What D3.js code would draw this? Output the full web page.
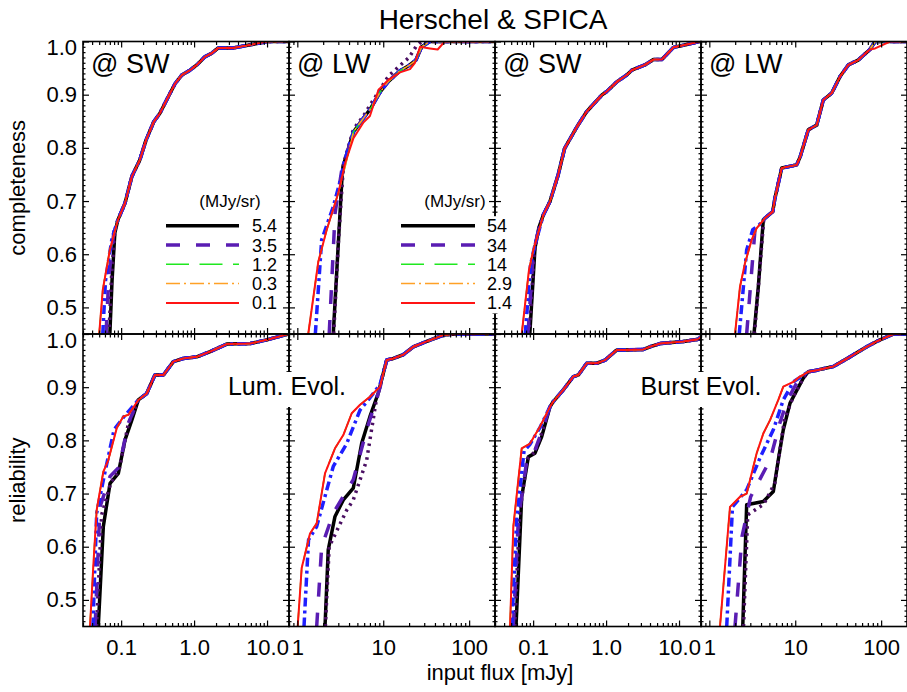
<!DOCTYPE html>
<head>
  <meta charset="utf-8">
  <title>Herschel &amp; SPICA</title>
  <script src="https://cdn.jsdelivr.net/npm/d3@7"></script>
  <style>
    body { margin: 0; background: #fff; }
    text { font-family: "Liberation Sans", Arial, Helvetica, sans-serif; fill: #000; }
  </style>
</head>
<body>
<div id="chart"></div>
<script>

// axis ticks and labels
var swTicks = [0.1, 1, 10];
var swTickLabels = ["0.1", "1.0", "10.0"];
var lwTicks = [1, 10, 100];
var lwTickLabels = ["1", "10", "100"];
var yTicks = [0.5, 0.6, 0.7, 0.8, 0.9, 1.0];
var yTickLabels = ["0.5", "0.6", "0.7", "0.8", "0.9", "1.0"];
var swDomain = [0.03, 20];
var lwDomain = [0.8, 200];
var yDomain = [0.45, 1.0];

// legend (background in MJy/sr)
var legendSW = ["5.4", "3.5", "1.2", "0.3", "0.1"];
var legendLW = ["54", "34", "14", "2.9", "1.4"];

// ---- completeness, SW, Lum. Evol.  [flux mJy, value]
var p1Tail = [[0.09,0.664],[0.113,0.696],[0.14,0.746],[0.18,0.777],[0.22,0.815],[0.28,0.849],[0.34,0.865],[0.42,0.89],[0.55,0.921],[0.68,0.937],[0.88,0.946],[1.09,0.956],[1.4,0.971],[1.75,0.978],[2.15,0.988],[3.5,0.988],[6.5,0.995],[10,1.0],[20,1.0]];
var p1Black = [[0.07,0.45],[0.075,0.55],[0.082,0.64]];
var p1Dot = [[0.068,0.45],[0.074,0.56],[0.082,0.645]];
var p1Dash = [[0.062,0.45],[0.068,0.56],[0.08,0.645]];
var p1Blue = [[0.056,0.45],[0.061,0.55],[0.075,0.63]];
var p1Red = [[0.05,0.45],[0.056,0.533],[0.07,0.608]];

// ---- completeness, LW, Lum. Evol.
var p2Tail = [[3.4,0.765],[4.5,0.83],[5.9,0.856],[7,0.872],[9.2,0.905],[11.5,0.925],[15.7,0.945],[20,0.955],[24,0.965],[28,0.99],[35,1.0],[200,1.0]];
var p2Black = [[2.62,0.45],[3.0,0.62],[3.3,0.74]];
var p2Dot = [[2.65,0.45],[3.0,0.62],[3.45,0.77],[4.5,0.835],[5.9,0.86],[7,0.88],[9.2,0.91],[11.5,0.935],[15.7,0.955],[20,0.97],[24,0.99],[28,1.0],[200,1.0]];
var p2Dash = [[2.35,0.45],[2.75,0.677],[3.3,0.76]];
var p2Blue = [[1.62,0.45],[1.92,0.627],[2.62,0.689],[3.3,0.75]];
var p2Faint = [[1.34,0.45],[1.755,0.586],[2.2,0.646],[3.0,0.715],[3.6,0.765]];
var p2Red = [[1.34,0.45],[1.755,0.586],[2.2,0.646],[3.0,0.715],[3.6,0.771],[4.5,0.818],[5.9,0.848],[7,0.86],[8.8,0.909],[11.5,0.928],[15.7,0.942],[20.5,0.948],[23.4,0.96],[26.8,0.99],[35,0.987],[43,0.985],[52,1.0],[200,1.0]];

// ---- completeness, SW, Burst Evol.
var p3Tail = [[0.138,0.674],[0.17,0.699],[0.22,0.749],[0.27,0.799],[0.4,0.84],[0.54,0.868],[0.87,0.899],[1.02,0.906],[1.4,0.924],[1.92,0.937],[2.25,0.946],[3.4,0.956],[4.45,0.966],[5.8,0.966],[8.4,0.989],[11.5,0.993],[19,1.0],[20,1.0]];
var p3Black = [[0.09,0.45],[0.106,0.612],[0.12,0.65]];
var p3Dot = [[0.088,0.45],[0.104,0.605],[0.12,0.65]];
var p3Dash = [[0.085,0.45],[0.1,0.6],[0.12,0.65]];
var p3Blue = [[0.078,0.45],[0.092,0.58],[0.105,0.615]];
var p3Red = [[0.0697,0.45],[0.0878,0.571],[0.1006,0.608]];

// ---- completeness, LW, Burst Evol.
var p4Tail = [[4.45,0.668],[5.47,0.68],[5.8,0.705],[6.96,0.762],[10.4,0.768],[11.4,0.783],[14.2,0.834],[17.8,0.843],[21.2,0.89],[26.6,0.903],[33.2,0.934],[41.5,0.956],[54,0.965],[74,0.985],[85,1.0],[200,1.0]];
var p4Black = [[3.31,0.45],[3.72,0.539],[4.25,0.665]];
var p4Dot = [[3.35,0.45],[3.75,0.545],[4.3,0.665]];
var p4Dash = [[2.72,0.45],[3.4,0.646],[4.0,0.66]];
var p4Blue = [[2.23,0.45],[2.72,0.608],[3.2,0.646],[3.8,0.655]];
var p4Faint = [[1.99,0.45],[2.276,0.539],[2.6,0.583],[3.11,0.627],[3.56,0.649]];
var p4Red = [[1.99,0.45],[2.276,0.539],[2.6,0.583],[3.11,0.627],[3.56,0.649],[4.45,0.668],[5.47,0.68],[5.8,0.705],[6.96,0.762],[10.4,0.768],[11.4,0.783],[14.2,0.834],[17.8,0.843],[21.2,0.89],[26.6,0.903],[33.2,0.934],[41.5,0.956],[54,0.965],[74,0.985],[85,0.987],[127,1.0],[200,1.0]];

// ---- reliability, SW, Lum. Evol.
var p5Tail = [[0.172,0.876],[0.224,0.888],[0.29,0.923],[0.38,0.923],[0.52,0.948],[0.71,0.954],[1.09,0.957],[1.66,0.967],[2.8,0.981],[5.9,0.982],[9.9,0.989],[19.6,1.0],[20,1.0]];
var p5Black = [[0.0486,0.45],[0.057,0.638],[0.0704,0.719],[0.0915,0.738],[0.113,0.801],[0.14,0.838]];
var p5Dot = [[0.046,0.45],[0.054,0.66],[0.072,0.72],[0.094,0.745],[0.125,0.83]];
var p5Dash = [[0.044,0.45],[0.0512,0.675],[0.0704,0.732],[0.094,0.75],[0.125,0.832]];
var p5Blue = [[0.041,0.45],[0.0462,0.663],[0.06,0.74],[0.08,0.82],[0.107,0.843]];
var p5Red = [[0.0374,0.45],[0.0415,0.563],[0.0462,0.669],[0.057,0.741],[0.0667,0.763],[0.087,0.823],[0.107,0.845],[0.1255,0.848]];

// ---- reliability, LW, Lum. Evol.
var p6Tail = [[10.98,0.951],[13.1,0.954],[17.1,0.961],[22.4,0.976],[32.1,0.986],[50,0.998],[70,1.0],[200,1.0]];
var p6Black = [[2.1,0.45],[2.29,0.594],[2.745,0.657],[3.43,0.688],[4.48,0.71],[5.62,0.795],[7.01,0.845],[8.76,0.889],[10.5,0.939]];
var p6Dot = [[2.12,0.45],[2.35,0.6],[3.76,0.669],[4.48,0.688],[6.42,0.763],[8.2,0.87],[10.5,0.94]];
var p6Dash = [[1.68,0.45],[1.92,0.6],[2.62,0.663],[4.48,0.726],[6.42,0.82],[9.2,0.9]];
var p6Blue = [[1.196,0.45],[1.35,0.613],[1.68,0.638],[2.62,0.751],[3.76,0.794],[5.37,0.857],[7.01,0.88],[9.17,0.905]];
var p6Red = [[1.01,0.45],[1.124,0.56],[1.405,0.625],[1.681,0.644],[2.1,0.738],[2.745,0.785],[3.43,0.81],[4.3,0.851],[5.37,0.867],[7.01,0.882],[9.17,0.901]];

// ---- reliability, SW, Burst Evol.
var p7Tail = [[0.17,0.863],[0.189,0.873],[0.259,0.895],[0.356,0.92],[0.417,0.923],[0.543,0.945],[0.745,0.945],[0.968,0.951],[1.4,0.97],[1.82,0.97],[3.25,0.971],[4.0,0.976],[5.5,0.982],[11.5,0.986],[18.4,0.99],[20,0.995]];
var p7Black = [[0.0582,0.45],[0.0697,0.694],[0.0859,0.769],[0.106,0.776],[0.1311,0.807]];
var p7Dot = [[0.056,0.45],[0.065,0.66],[0.083,0.765],[0.105,0.778],[0.13,0.812]];
var p7Dash = [[0.0535,0.45],[0.0626,0.65],[0.0819,0.763],[0.105,0.78],[0.13,0.815]];
var p7Blue = [[0.051,0.45],[0.0594,0.65],[0.075,0.78],[0.09,0.792],[0.124,0.824]];
var p7Red = [[0.0482,0.45],[0.0535,0.638],[0.0697,0.785],[0.0906,0.794],[0.1243,0.826]];

// ---- reliability, LW, Burst Evol.
var p8Tail = [[14.2,0.929],[17.8,0.932],[27.8,0.939],[43.4,0.957],[67.9,0.976],[88.8,0.986],[138.7,1.0],[200,1.0]];
var p8Black = [[2.45,0.45],[2.72,0.679],[4.25,0.685],[5.56,0.704],[6.35,0.763],[7.26,0.82],[8.7,0.87],[12.4,0.917]];
var p8Dot = [[2.5,0.45],[2.8,0.66],[4.3,0.68],[5.8,0.72],[6.6,0.78],[7.5,0.84],[9.5,0.882],[12.4,0.917]];
var p8Dash = [[1.99,0.45],[2.4,0.619],[3.03,0.694],[5.09,0.763],[6.6,0.832],[8.1,0.876],[11,0.915]];
var p8Blue = [[1.594,0.45],[1.86,0.675],[2.72,0.707],[3.94,0.769],[5.56,0.82],[7.26,0.876],[9.5,0.91]];
var p8Red = [[1.331,0.45],[1.741,0.675],[2.276,0.694],[2.724,0.7],[3.113,0.738],[3.561,0.776],[4.25,0.813],[5.09,0.838],[6.35,0.876],[7.26,0.901],[9.5,0.91],[11.36,0.92]];

// curve order: black, dotted, dashed, blue dash-dot, green, orange, red
var panels = [
  {row: 0, col: 0, band: "SW", tag: "@ SW", tail: p1Tail, curves: [p1Black, p1Dot, p1Dash, p1Blue, p1Red, p1Red, p1Red]},
  {row: 0, col: 1, band: "LW", tag: "@ LW", tail: p2Tail, curves: [p2Black, p2Dot, p2Dash, p2Blue, p2Faint, p2Faint, p2Red]},
  {row: 0, col: 2, band: "SW", tag: "@ SW", tail: p3Tail, curves: [p3Black, p3Dot, p3Dash, p3Blue, p3Red, p3Red, p3Red]},
  {row: 0, col: 3, band: "LW", tag: "@ LW", tail: p4Tail, curves: [p4Black, p4Dot, p4Dash, p4Blue, p4Faint, p4Faint, p4Red]},
  {row: 1, col: 0, band: "SW", tag: null, tail: p5Tail, curves: [p5Black, p5Dot, p5Dash, p5Blue, p5Red, p5Red, p5Red]},
  {row: 1, col: 1, band: "LW", tag: null, tail: p6Tail, curves: [p6Black, p6Dot, p6Dash, p6Blue, p6Red, p6Red, p6Red]},
  {row: 1, col: 2, band: "SW", tag: null, tail: p7Tail, curves: [p7Black, p7Dot, p7Dash, p7Blue, p7Red, p7Red, p7Red]},
  {row: 1, col: 3, band: "LW", tag: null, tail: p8Tail, curves: [p8Black, p8Dot, p8Dash, p8Blue, p8Red, p8Red, p8Red]}
];

var lineStyles = [
  {color: "#000000", width: 3.5, dash: null},
  {color: "#4a0f62", width: 3.5, dash: "2.5,4.5"},
  {color: "#5a1db3", width: 3.5, dash: "14,16"},
  {color: "#1f1fff", width: 3.5, dash: "9,4,3,4"},
  {color: "#1fe81f", width: 1.5, dash: "23,10.5"},
  {color: "#ffa126", width: 1.5, dash: "14,4,2,4"},
  {color: "#ff1414", width: 2, dash: null}
];
var legendStyles = [0, 2, 4, 5, 6];

var W = 907, H = 692;
var lefts = [83, 289, 495, 701];
var tops = [41.5, 334];
var pw = 206, ph = 292.5;
var fontFam = '"Liberation Sans", Arial, Helvetica, sans-serif';

var svg = d3.select("#chart").append("svg")
  .attr("width", W)
  .attr("height", H)
  .style("background", "#fff");

function withTail(head, tail) {
  var last = head[head.length - 1][0];
  return head.concat(tail.filter(function(d) { return d[0] > last; }));
}

panels.forEach(function(p, k) {
  var g = svg.append("g")
    .attr("transform", "translate(" + lefts[p.col] + "," + tops[p.row] + ")");

  var x = d3.scaleLog()
    .domain(p.band == "SW" ? swDomain : lwDomain)
    .range([0, pw]);
  var y = d3.scaleLinear()
    .domain(yDomain)
    .range([ph, 0]);

  g.append("clipPath").attr("id", "clip" + k)
    .append("rect").attr("width", pw).attr("height", ph);

  var line = d3.line()
    .x(function(d) { return x(d[0]); })
    .y(function(d) { return y(d[1]); });

  // curves
  var cg = g.append("g").attr("clip-path", "url(#clip" + k + ")");
  p.curves.forEach(function(c, i) {
    var s = lineStyles[i];
    cg.append("path")
      .datum(withTail(c, p.tail))
      .attr("fill", "none")
      .attr("stroke", s.color)
      .attr("stroke-width", s.width)
      .attr("stroke-dasharray", s.dash)
      .attr("stroke-linejoin", "round")
      .attr("d", line);
  });

  // X ticks (inward, top and bottom)
  var majorX = p.band == "SW" ? swTicks : lwTicks;
  var labelsX = p.band == "SW" ? swTickLabels : lwTickLabels;
  var minorX = x.ticks().filter(function(t) { return majorX.indexOf(t) < 0; });

  g.append("g").attr("transform", "translate(0," + ph + ")")
    .call(d3.axisBottom(x).tickValues(majorX).tickSize(-6).tickSizeOuter(0).tickPadding(13)
      .tickFormat(function(d, i) { return p.row == 1 ? labelsX[i] : ""; }))
    .attr("font-size", 22)
    .attr("font-family", fontFam);
  g.append("g").attr("transform", "translate(0," + ph + ")")
    .call(d3.axisBottom(x).tickValues(minorX).tickSize(-3.5).tickSizeOuter(0).tickFormat(""));
  g.append("g")
    .call(d3.axisTop(x).tickValues(majorX).tickSize(-6).tickSizeOuter(0).tickFormat(""));
  g.append("g")
    .call(d3.axisTop(x).tickValues(minorX).tickSize(-3.5).tickSizeOuter(0).tickFormat(""));

  // Y ticks (inward, left and right)
  var minorY = d3.range(46, 100).map(function(i) { return i / 100; })
    .filter(function(v) { return Math.round(v * 100) % 10 != 0; });

  var axL = g.append("g")
    .call(d3.axisLeft(y).tickValues(yTicks).tickSize(-6).tickSizeOuter(0).tickPadding(6)
      .tickFormat(function(d, i) { return p.col == 0 ? yTickLabels[i] : ""; }))
    .attr("font-size", 22)
    .attr("font-family", fontFam);
  axL.selectAll(".tick text").filter(function(d) { return d == 1; }).attr("y", 6);
  g.append("g")
    .call(d3.axisLeft(y).tickValues(minorY).tickSize(-2.5).tickSizeOuter(0).tickFormat(""));
  g.append("g").attr("transform", "translate(" + pw + ",0)")
    .call(d3.axisRight(y).tickValues(yTicks).tickSize(-6).tickSizeOuter(0).tickFormat(""));
  g.append("g").attr("transform", "translate(" + pw + ",0)")
    .call(d3.axisRight(y).tickValues(minorY).tickSize(-2.5).tickSizeOuter(0).tickFormat(""));

  g.selectAll(".domain").remove();
  g.selectAll(".tick line").attr("stroke-width", 1.2);

  // frame
  g.append("rect")
    .attr("width", pw).attr("height", ph)
    .attr("fill", "none")
    .attr("stroke", "#000")
    .attr("stroke-width", 1.6);

  if (p.tag) {
    g.append("text")
      .attr("x", 8)
      .attr("y", 31)
      .style("font-size", "27px")
      .text(p.tag);
  }
});

// text on a white box (hides the panel border beneath it)
function boxedText(x, y, anchor, size, txt, pad, boxTop, boxH) {
  var t = svg.append("text")
    .attr("x", x)
    .attr("y", y)
    .attr("text-anchor", anchor)
    .style("font-size", size + "px")
    .text(txt);
  var b = t.node().getBBox();
  svg.insert("rect", function() { return t.node(); })
    .attr("x", b.x - pad)
    .attr("y", boxTop == null ? b.y : boxTop)
    .attr("width", b.width + 2 * pad)
    .attr("height", boxH == null ? b.height : boxH)
    .attr("fill", "#fff");
}

// evolution labels
boxedText(287, 395, "middle", 25, "Lum. Evol.", 3, 372, 35);
boxedText(701, 395, "middle", 25, "Burst Evol.", 3, 372, 35);

// legends
function drawLegend(x0, x1, xLabel, headCx, labels) {
  boxedText(headCx, 207, "middle", 17, "(MJy/sr)", 1);
  labels.forEach(function(lab, i) {
    var s = lineStyles[legendStyles[i]];
    var yy = 225.7 + i * 19.3;
    svg.append("line")
      .attr("x1", x0).attr("x2", x1)
      .attr("y1", yy).attr("y2", yy)
      .attr("stroke", s.color)
      .attr("stroke-width", s.width)
      .attr("stroke-dasharray", s.dash);
    boxedText(xLabel, yy + 6.5, "start", 18, lab, 1);
  });
}
drawLegend(166, 239, 252, 230, legendSW);
drawLegend(401, 475, 487, 455, legendLW);

// titles
svg.append("text")
  .attr("x", 493)
  .attr("y", 29)
  .attr("text-anchor", "middle")
  .style("font-size", "28px")
  .text("Herschel & SPICA");

svg.append("text")
  .attr("x", 500)
  .attr("y", 680)
  .attr("text-anchor", "middle")
  .style("font-size", "22px")
  .text("input flux [mJy]");

svg.append("text")
  .attr("transform", "translate(25," + (tops[0] + ph / 2) + ") rotate(-90)")
  .attr("text-anchor", "middle")
  .style("font-size", "22px")
  .text("completeness");

svg.append("text")
  .attr("transform", "translate(25," + (tops[1] + ph / 2) + ") rotate(-90)")
  .attr("text-anchor", "middle")
  .style("font-size", "22px")
  .text("reliability");

</script>
</body>
</html>
